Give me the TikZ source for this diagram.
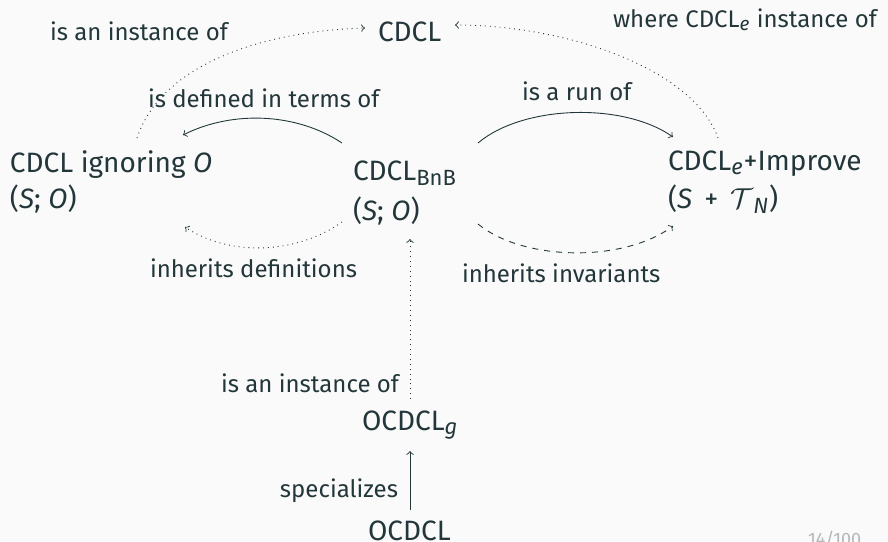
\documentclass[tikz,border=0pt]{standalone}
\usepackage{fontspec}
\setmainfont{Fira Sans}
\usetikzlibrary{calc}
\definecolor{ink}{HTML}{23373B}
\definecolor{paper}{HTML}{FAFAFA}
\definecolor{pagenum}{HTML}{B4B8B9}
% text subscripts in the main font
\newcommand{\tsub}[1]{$_{\hbox{\fontsize{11}{11}\selectfont #1}}$}
\newcommand{\isub}[1]{$_{\hbox{\fontsize{11}{11}\selectfont\itshape #1}}$}
\newcommand{\lsub}[1]{$_{\hbox{\fontsize{9.5}{9.5}\selectfont\itshape #1}}$}
\begin{document}
\begin{tikzpicture}[x=0.5pt,y=-0.5pt,
  every node/.style={inner sep=0pt,outer sep=0pt,text=ink},
  state/.style={anchor=base west,font=\fontsize{14}{17}\selectfont},
  lbl/.style={anchor=base west,font=\fontsize{12}{14}\selectfont},
  lblr/.style={lbl,anchor=base east},
  link/.style={draw=ink,line width=0.45pt,-to},
  dotlink/.style={link,dotted},
  dashlink/.style={link,dashed}]
\fill[paper] (0,0) rectangle (888,541);
\useasboundingbox (0,0) rectangle (888,541);

% states
\node[state] (cdcl) at (378,41) {CDCL};
\node[state] (ign)  at (10,172) {CDCL ignoring \textit{O}};
\node[state] (ign2) at (10,208) {(\textit{S}; \textit{O})};
\node[state] (bnb)  at (353,180) {CDCL\tsub{BnB}};
\node[state] (bnb2) at (353,220) {(\textit{S}; \textit{O})};
\node[state] (imp)  at (668,170) {CDCL\isub{e}+Improve};
\node[state] (imp2) at (668,208) {(\textit{S} \,+\, $\mathcal{T}$\isub{N})};
\node[state] (ocg)  at (362,430) {OCDCL\isub{g}};
\node[state] (oc)   at (368,540) {OCDCL};

% relation labels
\node[lbl]  (l1) at (50,40)   {is an instance of};
\node[lbl]  (l2) at (613,27)  {where CDCL\lsub{e} instance of};
\node[lbl]  (l3) at (148,107) {is defined in terms of};
\node[lbl]  (l4) at (522,100) {is a run of};
\node[lbl]  (l5) at (150,277) {inherits definitions};
\node[lbl]  (l6) at (462,282) {inherits invariants};
\node[lblr] (l7) at (399,392) {is an instance of};
\node[lblr] (l8) at (398,497) {specializes};

% relations
\draw[dotlink] ($(ign.base west)+(127,-34)$)
  .. controls +(25,-75) and +(-100,3) .. ($(cdcl.base west)+(-13,-13)$);
\draw[dotlink] ($(imp.base west)+(50,-32)$)
  .. controls +(-25,-70) and +(110,0) .. ($(cdcl.base west)+(77,-16)$);
\draw[link] ($(bnb.base west)+(-11,-37)$)
  .. controls +(-45,-30) and +(50,-25) .. ($(ign.base west)+(173,-37)$);
\draw[link] ($(bnb.base west)+(125,-37)$)
  .. controls +(45,-38) and +(-50,-35) .. ($(imp.base west)+(5,-33)$);
\draw[dotlink] ($(bnb2.base west)+(-11,2)$)
  .. controls +(-45,32) and +(45,30) .. ($(ign2.base west)+(175,19)$);
\draw[dashlink] ($(bnb2.base west)+(125,4)$)
  .. controls +(45,37) and +(-50,37) .. ($(imp2.base west)+(5,18)$);
\draw[dotlink] ($(ocg.base west)+(48,-31)$) -- ($(bnb2.base west)+(57,19)$);
\draw[link] ($(oc.base west)+(42,-30)$) -- ($(ocg.base west)+(48,21)$);

% frame number
\begin{scope}
\clip (0,0) rectangle (888,541);
\node[lbl,text=pagenum,font=\fontsize{9}{9}\selectfont] (pg) at (808,545) {14/100};
\end{scope}
\end{tikzpicture}
\end{document}
